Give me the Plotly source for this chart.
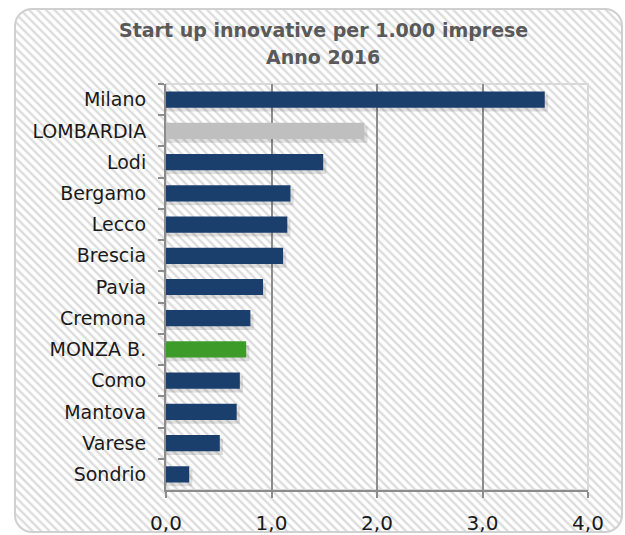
import base64
import plotly.graph_objects as go

provinces = ["Milano", "LOMBARDIA", "Lodi", "Bergamo", "Lecco", "Brescia", "Pavia",
             "Cremona", "MONZA B.", "Como", "Mantova", "Varese", "Sondrio"]
values = [3.59, 1.88, 1.49, 1.18, 1.15, 1.11, 0.92, 0.80, 0.76, 0.70, 0.67, 0.51, 0.22]
x_ticks = [0, 1, 2, 3, 4]
x_tick_labels = ["0,0", "1,0", "2,0", "3,0", "4,0"]
title_lines = ["Start up innovative per 1.000 imprese", "Anno 2016"]

BLUE = "#1b3f6c"
GREY = "#bfbfbf"
GREEN = "#3d9b29"
colors = [GREY if p == "LOMBARDIA" else GREEN if p == "MONZA B." else BLUE for p in provinces]

W, H = 625, 535
L, R, T, B = 166, 37, 84, 45
pw, ph = W - L - R, H - T - B
FONT = "'DejaVu Sans', sans-serif"

svg = f"""<svg xmlns='http://www.w3.org/2000/svg' width='{W}' height='{H}' viewBox='0 0 {W} {H}'>
<defs><pattern id='p' width='6' height='6' patternUnits='userSpaceOnUse' patternTransform='rotate(-45)'>
<rect width='6' height='6' fill='white'/><line x1='1.5' y1='0' x2='1.5' y2='6' stroke='#d6d6d6' stroke-width='2'/></pattern></defs>
<rect x='0' y='0' width='{W}' height='{H}' fill='white'/>
<rect x='15' y='9' width='607' height='523' rx='17' ry='17' fill='url(#p)' stroke='#d0d0d0' stroke-width='2'/>
</svg>"""
src = "data:image/svg+xml;base64," + base64.b64encode(svg.encode()).decode()

BAR_W = 0.52
fig = go.Figure()
# soft drop shadow
fig.add_trace(go.Bar(
    y=provinces, x=[v + 0.03 for v in values], orientation="h",
    marker=dict(color="rgba(0,0,0,0.12)", line=dict(width=0)),
    width=BAR_W, offset=-BAR_W / 2 + 0.12, hoverinfo="skip",
))
fig.add_trace(go.Bar(
    y=provinces, x=values, orientation="h",
    marker=dict(color=colors, line=dict(width=0)),
    width=BAR_W, offset=-BAR_W / 2, hoverinfo="x+y",
))

annotations = []
for line, ypx in zip(title_lines, [30, 57]):
    annotations.append(dict(
        text=f"<b>{line}</b>", xref="paper", yref="paper",
        x=(323 - L) / pw, y=1 + (T - ypx) / ph, xanchor="center", yanchor="middle",
        showarrow=False, font=dict(family=FONT, size=19, color="#595959"),
    ))

fig.update_layout(
    width=W, height=H,
    margin=dict(l=L, r=R, t=T, b=B, pad=0, autoexpand=False),
    paper_bgcolor="white",
    plot_bgcolor="white",
    showlegend=False,
    barmode="overlay",
    font=dict(family=FONT, color="#1a1a1a", size=19),
    annotations=annotations,
    images=[dict(
        source=src, xref="paper", yref="paper",
        x=-L / pw, y=1 + T / ph, sizex=W / pw, sizey=H / ph,
        xanchor="left", yanchor="top", sizing="stretch", layer="below",
    )],
    shapes=[dict(type="rect", xref="paper", yref="paper", x0=0, x1=1, y0=0, y1=1,
                 line=dict(color="#d9d9d9", width=2), layer="below")],
)

fig.update_xaxes(
    range=[0, 4], tickvals=x_ticks, ticktext=x_tick_labels,
    showgrid=True, gridcolor="#8c8c8c", gridwidth=2,
    showline=True, linecolor="#8c8c8c", linewidth=2,
    ticks="outside", ticklen=6, tickcolor="#8c8c8c", tickwidth=2,
    zeroline=False, tickfont=dict(size=20, color="#1a1a1a"),
    ticklabelstandoff=8, automargin=False,
)
fig.update_yaxes(
    autorange="reversed", categoryorder="array", categoryarray=provinces,
    showgrid=False, showline=True, linecolor="#8c8c8c", linewidth=2,
    ticks="outside", ticklen=6, tickcolor="#8c8c8c", tickwidth=2,
    tickson="boundaries", ticklabelstandoff=14, automargin=False,
    tickfont=dict(size=19, color="#1a1a1a"),
)

fig.write_html("out.html")
